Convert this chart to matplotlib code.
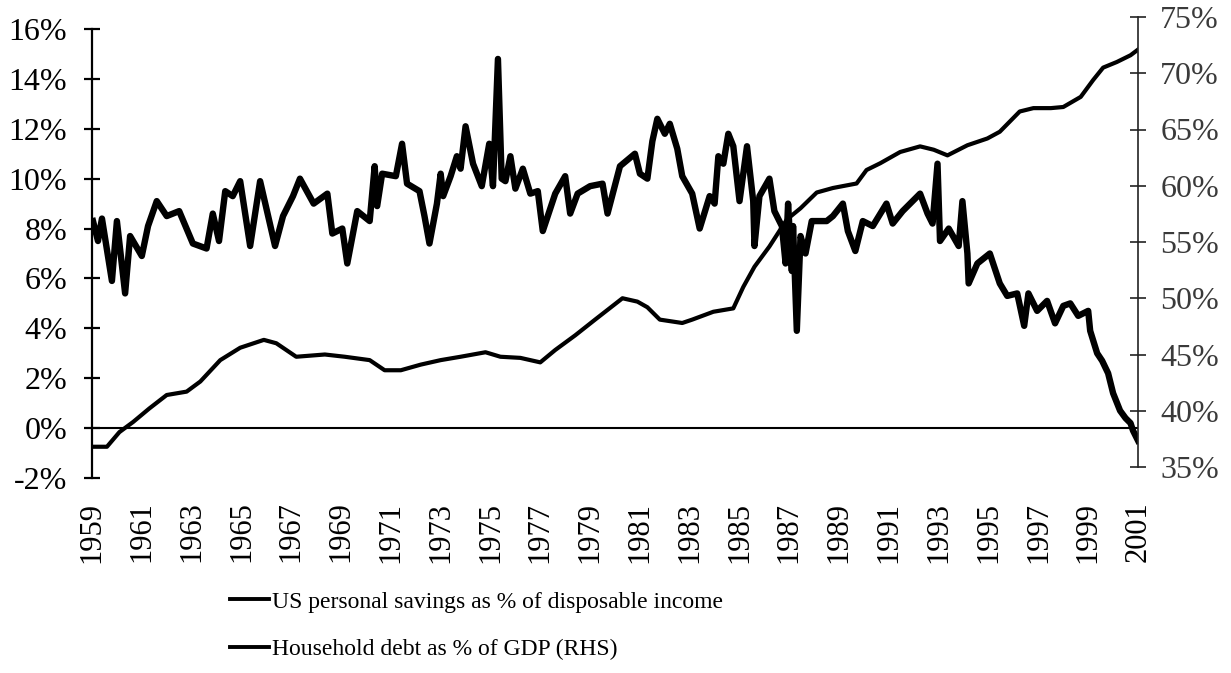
import matplotlib
matplotlib.use("Agg")
import matplotlib.pyplot as plt
from matplotlib.ticker import FuncFormatter

# ---- data ----
sav_year = [1959.04, 1959.24, 1959.4, 1959.8, 1960.0, 1960.33, 1960.53, 1961.0, 1961.25, 1961.6,
            1962.0, 1962.5, 1963.05, 1963.6, 1963.85, 1964.1, 1964.35, 1964.65, 1964.95, 1965.35,
            1965.75, 1966.35, 1966.67, 1967.07, 1967.35, 1967.9, 1968.45, 1968.65, 1969.05, 1969.25,
            1969.65, 1970.15, 1970.35, 1970.45, 1970.65, 1971.2, 1971.45, 1971.65, 1972.15, 1972.35,
            1972.55, 1972.85, 1973.0, 1973.1, 1973.4, 1973.65, 1973.8, 1974.0, 1974.3, 1974.65,
            1974.95, 1975.1, 1975.3, 1975.45, 1975.6, 1975.8, 1976.0, 1976.3, 1976.6, 1976.9,
            1977.1, 1977.6, 1978.0, 1978.2, 1978.5, 1979.0, 1979.5, 1979.7, 1980.2, 1980.8,
            1981.0, 1981.3, 1981.5, 1981.7, 1982.0, 1982.2, 1982.5, 1982.7, 1983.1, 1983.4,
            1983.8, 1984.0, 1984.15, 1984.35, 1984.55, 1984.75, 1985.0, 1985.3, 1985.55, 1985.6,
            1985.8, 1986.2, 1986.4, 1986.7, 1986.85, 1986.95, 1987.1, 1987.15, 1987.3, 1987.45,
            1987.65, 1987.9, 1988.5, 1988.75, 1989.15, 1989.35, 1989.65, 1989.95, 1990.35, 1990.9,
            1991.15, 1991.55, 1992.25, 1992.55, 1992.75, 1992.95, 1993.05, 1993.4, 1993.8, 1993.95,
            1994.15, 1994.2, 1994.55, 1995.05, 1995.45, 1995.75, 1996.15, 1996.43, 1996.6, 1996.95,
            1997.35, 1997.67, 1998.0, 1998.28, 1998.6, 1999.0, 1999.08, 1999.36, 1999.56, 1999.8,
            2000.0, 2000.28, 2000.5, 2000.7, 2000.8, 2001.0]
sav_value = [8.3, 7.5, 8.4, 5.9, 8.3, 5.4, 7.7, 6.9, 8.1, 9.1,
             8.5, 8.7, 7.4, 7.2, 8.6, 7.5, 9.5, 9.3, 9.9, 7.3,
             9.9, 7.3, 8.5, 9.3, 10.0, 9.0, 9.4, 7.8, 8.0, 6.6,
             8.7, 8.3, 10.5, 8.9, 10.2, 10.1, 11.4, 9.8, 9.5, 8.5,
             7.4, 9.0, 10.2, 9.3, 10.1, 10.9, 10.4, 12.1, 10.6, 9.7,
             11.4, 9.7, 14.8, 10.0, 9.9, 10.9, 9.6, 10.4, 9.4, 9.5,
             7.9, 9.4, 10.1, 8.6, 9.4, 9.7, 9.8, 8.6, 10.5, 11.0,
             10.2, 10.0, 11.5, 12.4, 11.8, 12.2, 11.2, 10.1, 9.4, 8.0,
             9.3, 9.0, 10.9, 10.6, 11.8, 11.3, 9.1, 11.3, 9.1, 7.3,
             9.3, 10.0, 8.7, 8.1, 6.6, 9.0, 6.3, 8.1, 3.9, 7.7,
             7.0, 8.3, 8.3, 8.5, 9.0, 7.9, 7.1, 8.3, 8.1, 9.0,
             8.2, 8.7, 9.4, 8.6, 8.2, 10.6, 7.5, 8.0, 7.3, 9.1,
             7.0, 5.8, 6.6, 7.0, 5.8, 5.3, 5.4, 4.1, 5.4, 4.7,
             5.1, 4.2, 4.9, 5.0, 4.5, 4.7, 3.9, 3.0, 2.7, 2.2,
             1.4, 0.7, 0.4, 0.2, -0.1, -0.5]

debt_year = [1959.0, 1959.6, 1960.1, 1960.65, 1961.3, 1962.0, 1962.8, 1963.35, 1964.15, 1964.95,
             1965.9, 1966.4, 1967.2, 1968.35, 1969.15, 1970.15, 1970.75, 1971.4, 1972.2, 1973.0,
             1973.8, 1974.8, 1975.4, 1976.2, 1977.0, 1977.6, 1978.4, 1979.2, 1980.3, 1980.9,
             1981.3, 1981.8, 1982.7, 1983.1, 1983.95, 1984.75, 1985.15, 1985.6, 1986.2, 1986.9,
             1987.45, 1988.1, 1988.75, 1989.7, 1990.1, 1990.65, 1991.45, 1992.25, 1992.8, 1993.35,
             1994.15, 1994.95, 1995.45, 1996.25, 1996.8, 1997.5, 1998.0, 1998.7, 1999.2, 1999.6,
             2000.15, 2000.7, 2001.0]
debt_value = [36.8, 36.8, 38.1, 39.0, 40.2, 41.4, 41.7, 42.6, 44.5, 45.6,
              46.3, 46.0, 44.8, 45.0, 44.8, 44.5, 43.6, 43.6, 44.1, 44.5,
              44.8, 45.2, 44.8, 44.7, 44.3, 45.4, 46.7, 48.1, 50.0, 49.7,
              49.2, 48.1, 47.8, 48.1, 48.8, 49.1, 51.0, 52.8, 54.6, 57.0,
              58.0, 59.4, 59.8, 60.2, 61.4, 62.0, 63.0, 63.5, 63.2, 62.7,
              63.6, 64.2, 64.8, 66.6, 66.9, 66.9, 67.0, 67.9, 69.4, 70.5,
              71.0, 71.6, 72.1]

year_ticks = list(range(1959, 2002, 2))
left_ticks = list(range(-2, 17, 2))
right_ticks = list(range(35, 76, 5))
label_sav = "US personal savings as % of disposable income"
label_debt = "Household debt as % of GDP (RHS)"

# ---- figure ----
plt.rcParams['font.family'] = ['Liberation Serif', 'DejaVu Serif']
W, H = 1231, 673
fig = plt.figure(figsize=(W / 100, H / 100), dpi=100)
fig.patch.set_facecolor('white')

ax = fig.add_axes([92 / W, 1 - 478 / H, 1046 / W, 449 / H])
ax2 = fig.add_axes([92 / W, 1 - 467 / H, 1046 / W, 450 / H], sharex=ax)
ax2.patch.set_visible(False)

l1, = ax.plot(sav_year, sav_value, color='black', lw=4.6, solid_joinstyle='round',
              label=label_sav)
l2, = ax2.plot(debt_year, debt_value, color='black', lw=3.0, solid_joinstyle='round',
               label=label_debt)
ax.axhline(0, color='black', lw=1.5)

ax.set_xlim(1959, 2001)
ax.set_ylim(-2, 16)
ax2.set_ylim(35, 75)

for s in ['top', 'right', 'bottom']:
    ax.spines[s].set_visible(False)
for s in ['top', 'left', 'bottom']:
    ax2.spines[s].set_visible(False)
ax.spines['left'].set_linewidth(1.6)
ax2.spines['right'].set_linewidth(1.2)
ax2.spines['right'].set_color('#222222')

ax.set_yticks(left_ticks)
ax.yaxis.set_major_formatter(FuncFormatter(lambda v, p: f"{v:.0f}%"))
ax.tick_params(axis='y', direction='inout', length=12, width=1.6, labelsize=23, pad=12)

ax2.yaxis.tick_right()
ax2.set_yticks(right_ticks)
ax2.yaxis.set_major_formatter(FuncFormatter(lambda v, p: f"{v:.0f}%"))
ax2.tick_params(axis='y', direction='inout', length=12, width=1.2, labelsize=23, pad=10,
                labelcolor='#3a3a3a', color='#222222')

ax.set_xticks(year_ticks)
ax.set_xticklabels([str(y) for y in year_ticks], rotation=90)
ax.tick_params(axis='x', length=0, labelsize=22, pad=17)
ax2.tick_params(axis='x', length=0, labelbottom=False)

leg = fig.legend([l1, l2], [label_sav, label_debt], loc='upper left',
                 bbox_to_anchor=(230 / W, 1 - 591 / H), frameon=False, fontsize=17,
                 handlelength=1.65, handletextpad=0.15, labelspacing=1.12,
                 borderpad=0, borderaxespad=0)
for ln in leg.get_lines():
    ln.set_linewidth(2.8)

fig.savefig('out.png', dpi=100, facecolor='white')
